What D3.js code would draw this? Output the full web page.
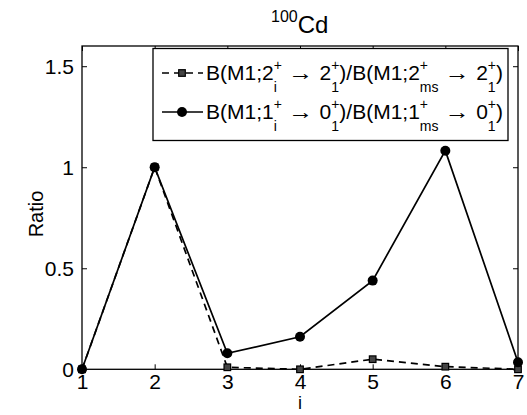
<!DOCTYPE html>
<html><head><meta charset="utf-8">
<script src="https://cdn.jsdelivr.net/npm/d3@7"></script>
<style>body{margin:0;background:#fff}text{font-family:"Liberation Sans",Arial,sans-serif;fill:#000}</style>
</head><body>
<svg id="c" width="527" height="415"></svg>
<script>
const xs = [1,2,3,4,5,6,7];
const seriesSq = [0, 1, 0.01, 0.0, 0.05, 0.013, 0.0];
const seriesCirc = [0, 1, 0.079, 0.161, 0.439, 1.082, 0.035];
const xTicks = [1,2,3,4,5,6,7];
const yTicks = [0,0.5,1,1.5];
const yTickLabels = ["0","0.5","1","1.5"];

const svg = d3.select("#c");
const L=82, R=518, T=46, B=369.3;
const FS=21;
const x = d3.scaleLinear().domain([1,7]).range([L,R]);
const y = d3.scaleLinear().domain([0,1.6]).range([B,T]);

svg.append("g").attr("transform",`translate(0,${B})`)
  .call(d3.axisBottom(x).tickValues(xTicks).tickSizeInner(-5).tickSizeOuter(0).tickPadding(5).tickFormat(d3.format("d")))
  .call(g=>{g.select(".domain").remove();g.selectAll("text").attr("font-size",FS).attr("font-family","Liberation Sans, Arial");});
svg.append("g").attr("transform",`translate(${L},0)`)
  .call(d3.axisLeft(y).tickValues(yTicks).tickSizeInner(-5).tickSizeOuter(0).tickPadding(8).tickFormat((d,i)=>yTickLabels[i]))
  .call(g=>{g.select(".domain").remove();g.selectAll("text").attr("font-size",FS).attr("font-family","Liberation Sans, Arial").attr("dy","0.36em");});
svg.append("g").attr("transform",`translate(0,${T})`)
  .call(d3.axisTop(x).tickValues(xTicks).tickSizeInner(-5).tickSizeOuter(0).tickFormat(""))
  .call(g=>g.select(".domain").remove());
svg.append("g").attr("transform",`translate(${R},0)`)
  .call(d3.axisRight(y).tickValues(yTicks).tickSizeInner(-5).tickSizeOuter(0).tickFormat(""))
  .call(g=>g.select(".domain").remove());
svg.selectAll(".tick line").attr("stroke","#000").attr("stroke-width",1);
svg.append("rect").attr("x",L).attr("y",T).attr("width",R-L).attr("height",B-T)
  .attr("fill","none").attr("stroke","#000").attr("stroke-width",1.3);

const line = d3.line().x((d,i)=>x(xs[i])).y(d=>y(d));
svg.append("path").datum(seriesSq).attr("d",line).attr("fill","none").attr("stroke","#000")
  .attr("stroke-width",1.7).attr("stroke-dasharray","7,5");
svg.append("path").datum(seriesCirc).attr("d",line).attr("fill","none").attr("stroke","#000")
  .attr("stroke-width",1.7);
svg.selectAll(".sq").data(seriesSq).enter().append("rect")
  .attr("x",(d,i)=>x(xs[i])-3.3).attr("y",d=>y(d)-3.3).attr("width",6.6).attr("height",6.6)
  .attr("fill","#444").attr("stroke","#000").attr("stroke-width",1.2);
svg.selectAll(".ci").data(seriesCirc).enter().append("circle")
  .attr("cx",(d,i)=>x(xs[i])).attr("cy",d=>y(d)).attr("r",5).attr("fill","#000");

function rich(g, x0, base, parts, fs, sfs, arrW){
  let cx = x0;
  parts.forEach(p=>{
    if(p[1]==="n"){
      const t=g.append("text").attr("x",cx).attr("y",base).attr("font-size",fs).text(p[0]);
      cx += t.node().getComputedTextLength();
    } else if(p[1]==="sp"){
      cx += p[0]*fs;
    } else if(p[1]==="arr"){
      const t=g.append("text").attr("font-size",fs).text("\u2192");
      const w=t.node().getComputedTextLength();
      t.attr("transform",`translate(${cx},${base}) scale(${arrW/w},1)`);
      cx += arrW;
    } else if(p[1]==="sup"){
      const t=g.append("text").attr("x",cx).attr("y",base-fs*0.45).attr("font-size",sfs).text(p[0]);
      cx += t.node().getComputedTextLength();
    } else if(p[1]==="supsub"){
      const a=g.append("text").attr("x",cx).attr("y",base-fs*0.5).attr("font-size",sfs).text(p[0]);
      const b=g.append("text").attr("x",cx).attr("y",base+fs*0.55).attr("font-size",sfs).text(p[2]);
      cx += Math.max(a.node().getComputedTextLength(), b.node().getComputedTextLength());
    }
  });
  return cx;
}

const tg = svg.append("g");
rich(tg, 271, 33, [["100","sup"],["Cd","n"]], 24, 16);

svg.append("text").attr("x",300).attr("y",409).attr("text-anchor","middle").attr("font-size",18).text("i");
svg.append("text").attr("transform","translate(43,214) rotate(-90)").attr("text-anchor","middle").attr("font-size",20).text("Ratio");

const lg = svg.append("g");
lg.append("rect").attr("x",153).attr("y",48.5).attr("width",355).attr("height",92)
  .attr("fill","#fff").attr("stroke","#000").attr("stroke-width",1.3);
const ly1=73, ly2=112;
lg.append("line").attr("x1",162).attr("x2",203).attr("y1",ly1).attr("y2",ly1).attr("stroke","#000")
  .attr("stroke-width",1.7).attr("stroke-dasharray","7,5").attr("stroke-dashoffset",0);
lg.append("rect").attr("x",182-3.3).attr("y",ly1-3.3).attr("width",6.6).attr("height",6.6)
  .attr("fill","#444").attr("stroke","#000").attr("stroke-width",1.2);
lg.append("line").attr("x1",162).attr("x2",203).attr("y1",ly2).attr("y2",ly2).attr("stroke","#000").attr("stroke-width",1.7);
lg.append("circle").attr("cx",182).attr("cy",ly2).attr("r",5).attr("fill","#000");
const parts = (a,b)=>[["B(M1;"+a,"n"],["+","supsub","i"],[0.3,"sp"],["","arr"],[0.3,"sp"],[b,"n"],["+","supsub","1"],[")/B(M1;"+a,"n"],["+","supsub","ms"],[0.3,"sp"],["","arr"],[0.3,"sp"],[b,"n"],["+","supsub","1"],[")","n"]];
rich(lg.append("g"), 206, ly1+7, parts("2","2"), FS, 14, 25);
rich(lg.append("g"), 206, ly2+7, parts("1","0"), FS, 14, 25);
</script>
</body></html>
